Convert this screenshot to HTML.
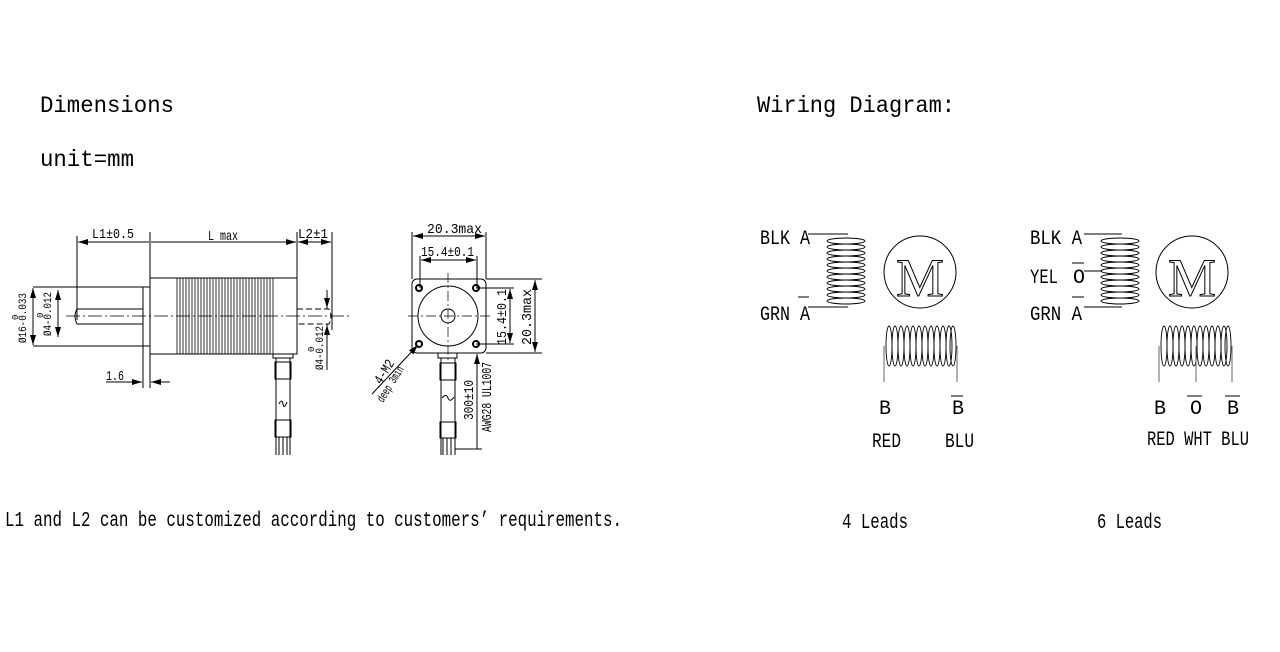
<!DOCTYPE html>
<html><head><meta charset="utf-8"><style>
html,body{margin:0;padding:0;background:#fff}
svg{display:block}
text{font-family:"Liberation Mono",monospace;fill:#000}
text.mo{fill:none;stroke:#000;stroke-width:1;font-family:"Liberation Serif",serif}
</style></head><body>
<svg width="1280" height="652" viewBox="0 0 1280 652" xmlns="http://www.w3.org/2000/svg">
<defs>
<marker id="ar" viewBox="0 0 10 6" refX="10" refY="3" markerWidth="10" markerHeight="6" orient="auto-start-reverse" markerUnits="userSpaceOnUse"><path d="M0,0 L10,3 L0,6 z" fill="#000"/></marker>
</defs>
<g font-size="23">
<text x="40" y="112" textLength="134" lengthAdjust="spacingAndGlyphs">Dimensions</text>
<text x="40" y="166" textLength="94" lengthAdjust="spacingAndGlyphs">unit=mm</text>
<text x="757" y="112" textLength="198" lengthAdjust="spacingAndGlyphs">Wiring Diagram:</text>
</g>
<text x="5" y="526" font-size="21" textLength="617" lengthAdjust="spacingAndGlyphs">L1 and L2 can be customized according to customers’ requirements.</text>
<text x="842" y="528" font-size="21" textLength="66" lengthAdjust="spacingAndGlyphs">4 Leads</text>
<text x="1097" y="528" font-size="21" textLength="65" lengthAdjust="spacingAndGlyphs">6 Leads</text>

<!-- SIDE VIEW -->
<g stroke="#000" stroke-width="1" fill="none">
<rect x="150" y="278" width="147" height="76"/>
<g stroke-width="0.8">
<path d="M177 278V354M180 278V354M183 278V354M186 278V354M189 278V354M192 278V354M195 278V354M198 278V354M201 278V354M204 278V354M207 278V354M210 278V354M213 278V354M216 278V354M219 278V354M222 278V354M225 278V354M228 278V354M231 278V354M234 278V354M237 278V354M240 278V354M243 278V354M246 278V354M249 278V354M252 278V354M255 278V354M258 278V354M261 278V354M264 278V354M267 278V354M270 278V354M273 278V354"/>
</g>
<path d="M143 287V388M150 354V388M143 287H150M143 346H150"/>
<path d="M33 287H143M33 346H143"/>
<path d="M77 309H143M77 324H143M77 309Q73 316 77 324"/>
<path d="M297 309H329Q333 316 329 324H297" stroke-dasharray="6 3"/>
<path d="M66 316H350" stroke-dasharray="14 3 2 3" stroke-width="0.7"/>
<path d="M77 236V320M150 232V278M297 232V278M332 232V330"/>
<path d="M78 242H149M151 242H296" marker-start="url(#ar)" marker-end="url(#ar)"/>
<path d="M298 242H331" marker-start="url(#ar)" marker-end="url(#ar)"/>
<path d="M33 288V345" marker-start="url(#ar)" marker-end="url(#ar)"/>
<path d="M58 290V337" marker-start="url(#ar)" marker-end="url(#ar)"/>
<path d="M327 290V309M327 324V370" />
<path d="M327 290V308" marker-end="url(#ar)"/>
<path d="M327 345V325" marker-end="url(#ar)"/>
<path d="M106 382H142" marker-end="url(#ar)"/>
<path d="M170 382H151" marker-end="url(#ar)"/>
<path d="M273 354H293V358H273z"/>
<path d="M276 358V455M290 358V455"/>
<rect x="275" y="362" width="16" height="17"/>
<rect x="275" y="420" width="16" height="17"/>
<path d="M279 437V455M283 437V455M287 437V455"/>
<path d="M279 404q3 -6 4 0t4 -2"/>
</g>
<g font-size="14">
<text x="92" y="238" textLength="42" lengthAdjust="spacingAndGlyphs">L1±0.5</text>
<text x="208" y="240" textLength="30" lengthAdjust="spacingAndGlyphs">L max</text>
<text x="298" y="238" textLength="30" lengthAdjust="spacingAndGlyphs">L2±1</text>
<text x="106" y="380" textLength="18" lengthAdjust="spacingAndGlyphs">1.6</text>
</g>
<g font-size="11">
<text transform="translate(26,343) rotate(-90)" textLength="50" lengthAdjust="spacingAndGlyphs">Ø16-0.033</text>
<text transform="translate(18,320) rotate(-90)" font-size="9">0</text>
<text transform="translate(51,336) rotate(-90)" textLength="44" lengthAdjust="spacingAndGlyphs">Ø4-0.012</text>
<text transform="translate(43,318) rotate(-90)" font-size="9">0</text>
<text transform="translate(323,370) rotate(-90)" textLength="44" lengthAdjust="spacingAndGlyphs">Ø4-0.012</text>
<text transform="translate(314,352) rotate(-90)" font-size="9">0</text>
</g>

<!-- FRONT VIEW -->
<g stroke="#000" stroke-width="1" fill="none">
<rect x="412" y="279" width="74" height="74" rx="5"/>
<circle cx="448" cy="316" r="30"/>
<circle cx="448" cy="316" r="7"/>
<circle cx="419" cy="288" r="3" stroke-width="2"/>
<circle cx="476" cy="288" r="3" stroke-width="2"/>
<circle cx="419" cy="344" r="3" stroke-width="2"/>
<circle cx="476" cy="344" r="3" stroke-width="2"/>
<path d="M408 316H492M448 273V360" stroke-dasharray="10 3 2 3" stroke-width="0.7"/>
<path d="M412 232V279M486 232V279M420 256V288M477 256V288"/>
<path d="M413 236H485" marker-start="url(#ar)" marker-end="url(#ar)"/>
<path d="M421 260H476" marker-start="url(#ar)" marker-end="url(#ar)"/>
<path d="M486 279H542M486 353H542M476 288H514M476 344H514"/>
<path d="M510 289V343" marker-start="url(#ar)" marker-end="url(#ar)"/>
<path d="M535 280V352" marker-start="url(#ar)" marker-end="url(#ar)"/>
<path d="M438 353H457V358H438z"/>
<path d="M441 358V455M455 358V455"/>
<rect x="440" y="363" width="16" height="17"/>
<rect x="440" y="422" width="16" height="16"/>
<path d="M443 438V455M447 438V455M451 438V455"/>
<path d="M442 398q4 -5 6 0t6 -1"/>
<path d="M477 354V449" marker-start="url(#ar)"/>
<path d="M455 449H482"/>
<path d="M372 394L418 345" marker-end="url(#ar)"/>
</g>
<g font-size="14">
<text x="427" y="233" textLength="55" lengthAdjust="spacingAndGlyphs">20.3max</text>
<text x="421" y="256" textLength="53" lengthAdjust="spacingAndGlyphs">15.4±0.1</text>
<text transform="translate(506,345) rotate(-90)" textLength="56" lengthAdjust="spacingAndGlyphs">15.4±0.1</text>
<text transform="translate(531,345) rotate(-90)" textLength="56" lengthAdjust="spacingAndGlyphs">20.3max</text>
<text transform="translate(473,420) rotate(-90)" textLength="40" lengthAdjust="spacingAndGlyphs">300±10</text>
<text transform="translate(491,432) rotate(-90)" textLength="70" lengthAdjust="spacingAndGlyphs">AWG28 UL1007</text>
<text transform="translate(381,385) rotate(-58)" textLength="26" lengthAdjust="spacingAndGlyphs">4-M2</text>
<text transform="translate(383,403) rotate(-58)" font-size="12" textLength="40" lengthAdjust="spacingAndGlyphs">deep 3min</text>
</g>

<!-- WIRING 4 -->
<g stroke="#000" fill="none" stroke-width="1">
<path d="M808 234H848M808 307H848"/>
<g id="vcoil" stroke-width="0.9">
<ellipse cx="846" cy="241" rx="19" ry="3"/><ellipse cx="846" cy="247" rx="19" ry="3"/><ellipse cx="846" cy="253" rx="19" ry="3"/><ellipse cx="846" cy="259" rx="19" ry="3"/><ellipse cx="846" cy="265" rx="19" ry="3"/><ellipse cx="846" cy="271" rx="19" ry="3"/><ellipse cx="846" cy="277" rx="19" ry="3"/><ellipse cx="846" cy="283" rx="19" ry="3"/><ellipse cx="846" cy="289" rx="19" ry="3"/><ellipse cx="846" cy="295" rx="19" ry="3"/><ellipse cx="846" cy="301" rx="19" ry="3"/>
</g>
<circle cx="920" cy="272" r="36"/>
<g id="hcoil" stroke-width="0.9">
<ellipse cx="889" cy="346" rx="3" ry="20"/><ellipse cx="895" cy="346" rx="3" ry="20"/><ellipse cx="901" cy="346" rx="3" ry="20"/><ellipse cx="907" cy="346" rx="3" ry="20"/><ellipse cx="913" cy="346" rx="3" ry="20"/><ellipse cx="919" cy="346" rx="3" ry="20"/><ellipse cx="925" cy="346" rx="3" ry="20"/><ellipse cx="931" cy="346" rx="3" ry="20"/><ellipse cx="937" cy="346" rx="3" ry="20"/><ellipse cx="943" cy="346" rx="3" ry="20"/><ellipse cx="949" cy="346" rx="3" ry="20"/><ellipse cx="953" cy="346" rx="3" ry="20"/>
</g>
<path d="M884 346V382M957 346V382" stroke="#666"/>
</g>
<text class="mo" x="920" y="296" font-size="54" text-anchor="middle">M</text>
<g font-size="20">
<text x="760" y="244" textLength="50" lengthAdjust="spacingAndGlyphs">BLK A</text>
<text x="760" y="320" textLength="50" lengthAdjust="spacingAndGlyphs">GRN A</text>
<text x="879" y="414">B</text><text x="952" y="414">B</text>
<text x="872" y="447" textLength="29" lengthAdjust="spacingAndGlyphs">RED</text>
<text x="945" y="447" textLength="29" lengthAdjust="spacingAndGlyphs">BLU</text>
</g>
<path d="M798 297H809M951 396H963" stroke="#000"/>

<!-- WIRING 6 -->
<g stroke="#000" fill="none" stroke-width="1">
<path d="M1084 234H1122M1084 307H1122M1084 271H1102"/>
<use href="#vcoil" x="274"/>
<circle cx="1192" cy="272" r="36"/>
<use href="#hcoil" x="275"/>
<path d="M1159 346V382M1232 346V382M1196 346V382" stroke="#666"/>
</g>
<text class="mo" x="1192" y="296" font-size="54" text-anchor="middle">M</text>
<g font-size="20">
<text x="1030" y="244" textLength="52" lengthAdjust="spacingAndGlyphs">BLK A</text>
<text x="1030" y="283" textLength="28" lengthAdjust="spacingAndGlyphs">YEL</text>
<text x="1073" y="283">O</text>
<text x="1030" y="320" textLength="52" lengthAdjust="spacingAndGlyphs">GRN A</text>
<text x="1154" y="414">B</text><text x="1190" y="414">O</text><text x="1227" y="414">B</text>
<text x="1147" y="445" textLength="102" lengthAdjust="spacingAndGlyphs">RED WHT BLU</text>
</g>
<path d="M1072 263H1084M1072 297H1084M1187 396H1202M1225 396H1240" stroke="#000"/>
</svg>
</body></html>
